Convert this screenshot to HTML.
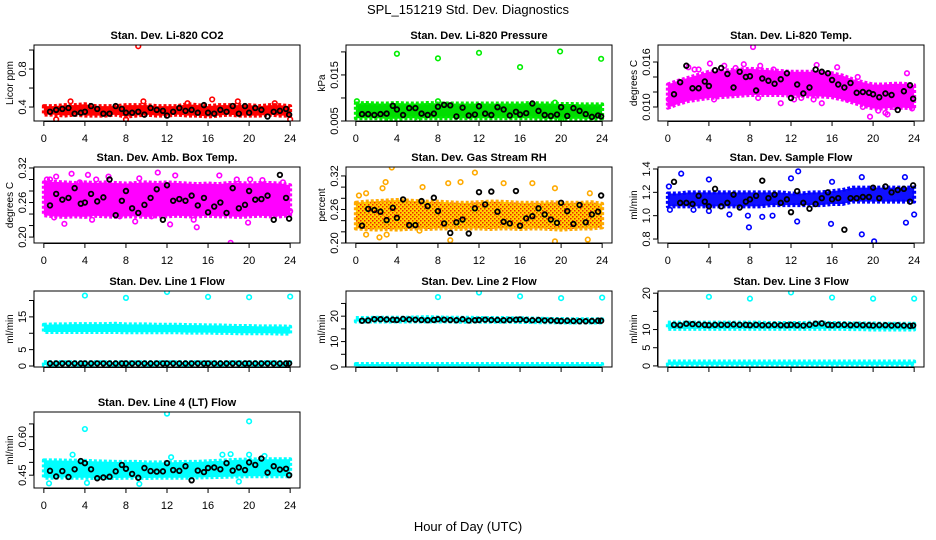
<!DOCTYPE html>
<html><head><meta charset="utf-8"><style>
body{margin:0;background:#fff}
svg{display:block}
text{font-family:"Liberation Sans",sans-serif;fill:#000}
</style></head><body>
<svg id="chart" width="936" height="540" viewBox="0 0 936 540" xmlns="http://www.w3.org/2000/svg">
<defs>
<pattern id="rhPat" width="4" height="4" patternUnits="userSpaceOnUse"><rect width="4" height="4" fill="#ffd400"/><rect width="1.5" height="1.5" fill="#f02000"/><rect x="2" y="2" width="1.5" height="1.5" fill="#f02000"/></pattern>
</defs>
<text x="468" y="14" font-size="13" text-anchor="middle">SPL_151219  Std. Dev. Diagnostics</text>
<text x="468" y="531" font-size="13" text-anchor="middle">Hour of Day (UTC)</text>
</svg>
<script>
const xTicks=[0,4,8,12,16,20,24];
const bandHours=[0,1,2,3,4,5,6,7,8,9,10,11,12,13,14,15,16,17,18,19,20,21,22,23,24];
const blackHours=[0.6,1.2,1.8,2.4,3.0,3.6,4.0,4.6,5.2,5.8,6.4,7.0,7.6,8.0,8.6,9.2,9.8,10.4,11.0,11.6,12.0,12.6,13.2,13.8,14.4,15.0,15.6,16.0,16.6,17.2,17.8,18.4,19.0,19.6,20.0,20.6,21.2,21.8,22.4,23.0,23.6,23.9];

const co2Lo=[0.32,0.32,0.31,0.32,0.31,0.31,0.31,0.32,0.30,0.31,0.32,0.31,0.31,0.32,0.31,0.31,0.30,0.31,0.32,0.31,0.31,0.31,0.32,0.31,0.31];
const co2Hi=[0.41,0.41,0.42,0.42,0.43,0.41,0.41,0.41,0.42,0.42,0.42,0.41,0.41,0.41,0.43,0.42,0.41,0.42,0.42,0.42,0.42,0.41,0.42,0.42,0.41];
const co2Black=[0.35,0.37,0.38,0.39,0.33,0.34,0.35,0.41,0.38,0.33,0.33,0.41,0.38,0.34,0.34,0.35,0.32,0.39,0.37,0.36,0.31,0.35,0.39,0.36,0.37,0.34,0.42,0.34,0.33,0.37,0.35,0.41,0.33,0.41,0.34,0.39,0.37,0.30,0.35,0.36,0.38,0.32];
const co2Out=[[9.2,1.04],[2.6,0.46],[9.7,0.46],[16.4,0.48],[18.9,0.46],[22.5,0.44],[1.2,0.27],[8.0,0.27],[24,0.27],[14,0.44]];

const presLo=[0.0056,0.0056,0.0056,0.0055,0.0055,0.0056,0.0056,0.0056,0.0056,0.0056,0.0056,0.0056,0.0056,0.0056,0.0056,0.0056,0.0056,0.0056,0.0055,0.0055,0.0055,0.0055,0.0055,0.0055,0.0056];
const presHi=[0.0088,0.0089,0.0088,0.0088,0.0089,0.0088,0.0088,0.0089,0.0088,0.0088,0.0088,0.0088,0.0088,0.0088,0.0088,0.0088,0.0088,0.0089,0.0088,0.0088,0.0087,0.0087,0.0086,0.0086,0.0086];
const presBlack=[0.0065,0.0065,0.0063,0.0065,0.0066,0.0083,0.0075,0.0063,0.0078,0.0078,0.0066,0.0063,0.0066,0.0081,0.0085,0.0084,0.0060,0.0079,0.0062,0.0064,0.0082,0.0066,0.0063,0.0080,0.0075,0.0062,0.0070,0.0064,0.0067,0.0088,0.0072,0.0063,0.0061,0.0064,0.0080,0.0061,0.0078,0.0072,0.0065,0.0059,0.0062,0.0060];
const presOut=[[4.0,0.0196],[8.0,0.0186],[12.0,0.0198],[16.0,0.0167],[19.9,0.0201],[23.9,0.0185],[0.1,0.0093],[8.0,0.0093],[19.4,0.0090],[3.3,0.0052],[6.0,0.0052],[20.0,0.0052]];

const tempLo=[0.0099,0.0104,0.0108,0.0110,0.0112,0.0113,0.0114,0.0115,0.0116,0.0116,0.0116,0.0116,0.0115,0.0115,0.0114,0.0114,0.0113,0.0110,0.0106,0.0102,0.0098,0.0098,0.0099,0.0099,0.0098];
const tempHi=[0.0130,0.0135,0.0139,0.0143,0.0147,0.0148,0.0149,0.0150,0.0151,0.0150,0.0149,0.0148,0.0147,0.0147,0.0147,0.0146,0.0145,0.0142,0.0137,0.0133,0.0130,0.0130,0.0131,0.0131,0.0129];
const tempBlack=[0.0117,0.0133,0.0155,0.0125,0.0125,0.0134,0.0128,0.0149,0.0152,0.0144,0.0126,0.0147,0.0140,0.0141,0.0122,0.0138,0.0135,0.0131,0.0137,0.0145,0.0112,0.0130,0.0118,0.0126,0.0150,0.0147,0.0145,0.0136,0.0130,0.0126,0.0132,0.0119,0.0120,0.0119,0.0117,0.0113,0.0118,0.0116,0.0096,0.0121,0.0129,0.0111];
const tempOut=[[0.4,0.0105],[4.1,0.0158],[7.4,0.0157],[8.3,0.0180],[14.5,0.0156],[16.5,0.0153],[19.7,0.0087],[21.4,0.0090],[21.2,0.0092],[11.0,0.0105],[2.0,0.0153],[10.3,0.0150],[3.0,0.0150],[23.3,0.0145],[2.6,0.0150],[15.0,0.0105],[0.1,0.0110],[1.5,0.0110],[5.5,0.0155],[6.6,0.0152],[9.0,0.0155],[12.3,0.0110],[13.0,0.0112],[14.2,0.0110],[17.5,0.0110],[18.5,0.0140],[19.0,0.0100],[20.5,0.0095],[22.0,0.0100],[23.8,0.0098],[4.5,0.0110],[8.8,0.0112]];

const ambLo=[0.238,0.236,0.235,0.236,0.235,0.237,0.236,0.235,0.236,0.236,0.235,0.236,0.236,0.237,0.236,0.236,0.237,0.236,0.236,0.235,0.236,0.237,0.236,0.236,0.238];
const ambHi=[0.295,0.296,0.295,0.294,0.295,0.294,0.295,0.294,0.293,0.294,0.295,0.294,0.295,0.294,0.293,0.292,0.293,0.292,0.294,0.294,0.293,0.294,0.294,0.293,0.290];
const ambBlack=[0.255,0.275,0.265,0.268,0.285,0.258,0.260,0.275,0.262,0.269,0.300,0.238,0.263,0.280,0.250,0.242,0.256,0.268,0.283,0.230,0.290,0.263,0.266,0.263,0.272,0.255,0.268,0.243,0.253,0.260,0.242,0.285,0.250,0.256,0.280,0.265,0.266,0.272,0.230,0.308,0.268,0.232];
const ambOut=[[0.6,0.300],[1.2,0.305],[2.7,0.310],[4.3,0.308],[5.1,0.300],[6.3,0.305],[8.5,0.290],[9.3,0.302],[11.1,0.312],[12.8,0.307],[17.1,0.307],[18.8,0.300],[20.1,0.300],[21.3,0.299],[23.3,0.295],[2.0,0.223],[4.7,0.230],[8.9,0.227],[12.3,0.222],[14.6,0.230],[14.9,0.217],[18.2,0.190],[19.9,0.225],[1.0,0.234],[7.4,0.236],[10.5,0.236],[22.6,0.240],[0.3,0.300],[24.0,0.245],[3.5,0.295]];

const rhLo=[0.226,0.225,0.224,0.225,0.224,0.225,0.226,0.225,0.226,0.226,0.225,0.226,0.226,0.225,0.226,0.226,0.225,0.226,0.226,0.225,0.224,0.225,0.226,0.226,0.228];
const rhHi=[0.272,0.274,0.275,0.276,0.277,0.276,0.275,0.274,0.274,0.273,0.272,0.272,0.273,0.274,0.274,0.273,0.272,0.272,0.272,0.273,0.272,0.272,0.272,0.273,0.270];
const rhBlack=[0.231,0.261,0.259,0.256,0.241,0.263,0.245,0.278,0.232,0.232,0.275,0.266,0.281,0.257,0.235,0.218,0.237,0.242,0.217,0.262,0.291,0.269,0.292,0.256,0.238,0.235,0.293,0.231,0.244,0.248,0.262,0.251,0.242,0.236,0.272,0.257,0.234,0.268,0.237,0.251,0.256,0.285];
const rhOut=[[3.5,0.335],[11.6,0.326],[10.2,0.309],[9.0,0.307],[14.4,0.307],[17.2,0.307],[2.9,0.309],[6.5,0.300],[2.6,0.298],[0.3,0.285],[1.0,0.289],[19.4,0.298],[22.8,0.289],[9.2,0.205],[19.4,0.203],[22.6,0.206],[2.3,0.210],[1.0,0.215],[3.0,0.215],[6.2,0.222]];

const flowLo=[1.08,1.08,1.08,1.08,1.08,1.08,1.08,1.08,1.08,1.08,1.09,1.09,1.09,1.09,1.09,1.09,1.10,1.10,1.12,1.12,1.12,1.12,1.12,1.12,1.12];
const flowHi=[1.19,1.19,1.20,1.20,1.20,1.20,1.20,1.20,1.20,1.20,1.20,1.20,1.19,1.19,1.20,1.20,1.21,1.22,1.24,1.24,1.24,1.24,1.24,1.24,1.24];
const flowBlack=[1.29,1.11,1.11,1.10,1.17,1.12,1.08,1.23,1.08,1.11,1.18,1.07,1.12,1.14,1.17,1.30,1.15,1.18,1.11,1.14,1.03,1.21,1.11,1.06,1.10,1.15,1.20,1.14,1.15,0.88,1.15,1.15,1.16,1.16,1.24,1.15,1.25,1.20,1.22,1.23,1.12,1.26];
const flowOut=[[0.1,1.25],[1.3,1.36],[4.0,1.31],[7.9,0.90],[9.2,0.99],[10.2,1.00],[12.0,1.32],[12.7,1.38],[12.6,0.95],[15.9,0.93],[18.9,0.84],[20.1,0.78],[23.2,0.94],[24.0,1.01],[18.9,1.33],[23.1,1.33],[6.0,1.01],[7.8,1.00],[0.2,1.05],[2.5,1.05],[16.0,1.29],[4.0,1.04]];

const zeroLo=[0.3,0.3,0.3,0.3,0.3,0.3,0.3,0.3,0.3,0.3,0.3,0.3,0.3,0.3,0.3,0.3,0.3,0.3,0.3,0.3,0.3,0.3,0.3,0.3,0.3];
const zeroHi=[1.2,1.2,1.2,1.2,1.2,1.2,1.2,1.2,1.2,1.2,1.2,1.2,1.2,1.2,1.2,1.2,1.2,1.2,1.2,1.2,1.2,1.2,1.2,1.2,1.2];

const l1Lo=[10.4,10.4,10.4,10.4,10.4,10.4,10.4,10.4,10.3,10.3,10.3,10.3,10.3,10.3,10.2,10.2,10.2,10.1,10.1,10.0,10.0,10.0,10.0,9.9,9.9];
const l1Hi=[12.6,12.7,12.7,12.8,12.8,12.8,12.8,12.9,12.7,12.7,12.7,12.6,12.6,12.6,12.5,12.5,12.4,12.4,12.3,12.2,12.2,12.1,12.1,12.1,12.0];
const l1Black=[0.8,0.8,0.8,0.8,0.8,0.8,0.8,0.8,0.8,0.8,0.8,0.8,0.8,0.8,0.8,0.8,0.8,0.8,0.8,0.8,0.8,0.8,0.8,0.8,0.8,0.8,0.8,0.8,0.8,0.8,0.8,0.8,0.8,0.8,0.8,0.8,0.8,0.8,0.8,0.8,0.8,0.8];
const l1Out=[[4,21.5],[8,20.8],[12,22.6],[16,21.1],[20,21.0],[24,21.2]];

const l2Lo=[17.9,17.9,17.9,17.9,17.9,17.9,17.9,17.9,17.9,17.9,17.8,17.8,17.8,17.8,17.8,17.8,17.7,17.7,17.6,17.6,17.5,17.5,17.5,17.5,17.5];
const l2Hi=[19.3,19.3,19.4,19.4,19.4,19.4,19.5,19.6,19.5,19.4,19.4,19.4,19.3,19.3,19.3,19.2,19.2,19.1,19.0,18.9,18.9,18.8,18.8,18.8,18.8];
const l2Black=[18.2,18.3,18.8,18.8,18.7,18.6,18.5,18.9,18.7,18.6,18.5,18.4,18.5,18.8,18.6,18.5,18.4,18.8,18.3,18.4,18.5,18.6,18.5,18.5,18.4,18.5,18.6,18.7,18.5,18.4,18.5,18.3,18.3,18.2,18.1,18.2,18.1,18.0,18.0,18.1,18.2,18.2];
const l2Out=[[8,27.5],[12,29.3],[16,27.8],[20,27.1],[24,27.3]];

const l3Lo=[10.2,10.2,10.2,10.2,10.2,10.2,10.2,10.2,10.2,10.2,10.2,10.2,10.2,10.2,10.2,10.2,10.2,10.2,10.1,10.1,10.0,10.0,10.0,10.0,10.0];
const l3Hi=[11.9,11.9,11.9,11.9,11.9,11.9,11.9,11.9,11.9,11.9,11.8,11.8,11.8,11.8,11.9,11.9,11.8,11.8,11.7,11.7,11.7,11.6,11.6,11.6,11.6];
const l3Black=[11.3,11.2,11.6,11.5,11.4,11.3,11.2,11.3,11.3,11.3,11.4,11.3,11.3,11.2,11.3,11.2,11.2,11.3,11.2,11.2,11.3,11.2,11.1,11.3,11.6,11.7,11.3,11.2,11.3,11.3,11.2,11.3,11.2,11.2,11.1,11.2,11.2,11.1,11.2,11.1,11.0,11.1];
const l3Out=[[4,19.0],[8,18.5],[12,20.2],[16,18.8],[20,18.5],[24,18.5]];

const l4Lo=[0.440,0.440,0.441,0.440,0.440,0.439,0.439,0.439,0.440,0.440,0.439,0.440,0.440,0.440,0.440,0.441,0.442,0.443,0.444,0.445,0.446,0.446,0.446,0.446,0.446];
const l4Hi=[0.508,0.508,0.507,0.507,0.506,0.504,0.503,0.502,0.502,0.502,0.500,0.500,0.500,0.501,0.502,0.502,0.504,0.506,0.508,0.510,0.511,0.512,0.512,0.512,0.512];
const l4Black=[0.467,0.445,0.466,0.443,0.473,0.505,0.497,0.473,0.438,0.441,0.444,0.465,0.490,0.475,0.455,0.440,0.478,0.466,0.464,0.465,0.497,0.470,0.467,0.485,0.430,0.468,0.462,0.478,0.480,0.473,0.497,0.468,0.480,0.470,0.500,0.490,0.515,0.460,0.485,0.472,0.475,0.450];
const l4Out=[[4,0.63],[12,0.69],[20,0.66],[2.8,0.53],[12.4,0.52],[17.4,0.53],[18.2,0.532],[20.0,0.53],[0.5,0.418],[4.2,0.42],[9.3,0.416],[19.0,0.425],[21.5,0.525]];

const co2Ticks=[0.4,0.6,0.8,1.0], co2Labels=["0.4","","0.8",""];
const presTicks=[0.005,0.010,0.015,0.020], presLabels=["0.005","","0.015",""];
const tempTicks=[0.010,0.012,0.014,0.016], tempLabels=["0.010","","","0.016"];
const ambTicks=[0.20,0.22,0.24,0.26,0.28,0.30,0.32], ambLabels=["0.20","","","0.26","","","0.32"];
const rhTicks=[0.20,0.22,0.24,0.26,0.28,0.30,0.32], rhLabels=["0.20","","","0.26","","","0.32"];
const flowTicks=[0.8,1.0,1.2,1.4], flowLabels=["0.8","1.0","1.2","1.4"];
const l1Ticks=[0,5,10,15,20], l1Labels=["0","5","","15",""];
const l2Ticks=[0,5,10,15,20,25], l2Labels=["0","","10","","20",""];
const l3Ticks=[0,5,10,15,20], l3Labels=["0","5","10","","20"];
const l4Ticks=[0.45,0.50,0.55,0.60,0.65], l4Labels=["0.45","","","0.60",""];

const NS="http://www.w3.org/2000/svg";
const svg=document.getElementById('chart');
function mk(tag,attrs,parent){const e=document.createElementNS(NS,tag);for(const k in attrs)e.setAttribute(k,attrs[k]);(parent||svg).appendChild(e);return e;}

const panels=[
 {key:'co2',title:'Stan. Dev. Li-820 CO2',ylab:'Licor ppm',col:0,row:0,ymin:0.253,ymax:1.053,color:'#ff0000',fill:'#ff0000',bands:[[co2Lo,co2Hi]],black:co2Black,out:co2Out,ticks:co2Ticks,labels:co2Labels,xl:true},
 {key:'pressure',title:'Stan. Dev. Li-820 Pressure',ylab:'kPa',col:1,row:0,ymin:0.005,ymax:0.0215,color:'#00ee00',fill:'#00dd00',bands:[[presLo,presHi]],black:presBlack,out:presOut,ticks:presTicks,labels:presLabels,xl:true},
 {key:'li820-temp',title:'Stan. Dev. Li-820 Temp.',ylab:'degrees C',col:2,row:0,ymin:0.00813,ymax:0.01827,color:'#ff00ff',fill:'#ff00ff',bands:[[tempLo,tempHi]],black:tempBlack,out:tempOut,ticks:tempTicks,labels:tempLabels,xl:true},
 {key:'amb-box-temp',title:'Stan. Dev. Amb. Box Temp.',ylab:'degrees C',col:0,row:1,ymin:0.1897,ymax:0.3217,color:'#ff00ff',fill:'#ff00ff',bands:[[ambLo,ambHi]],black:ambBlack,out:ambOut,ticks:ambTicks,labels:ambLabels,xl:true},
 {key:'gas-rh',title:'Stan. Dev. Gas Stream RH',ylab:'percent',col:1,row:1,ymin:0.20,ymax:0.336,color:'#ffaa00',fill:'url(#rhPat)',bands:[[rhLo,rhHi]],black:rhBlack,out:rhOut,ticks:rhTicks,labels:rhLabels,xl:true},
 {key:'sample-flow',title:'Stan. Dev. Sample Flow',ylab:'ml/min',col:2,row:1,ymin:0.766,ymax:1.417,color:'#0000ff',fill:'#1010ff',bands:[[flowLo,flowHi]],black:flowBlack,out:flowOut,ticks:flowTicks,labels:flowLabels,xl:true},
 {key:'line1-flow',title:'Stan. Dev. Line 1 Flow',ylab:'ml/min',col:0,row:2,ymin:-0.3,ymax:22.9,color:'#00ffff',fill:'#00ffff',bands:[[l1Lo,l1Hi],[zeroLo,zeroHi]],black:l1Black,out:l1Out,ticks:l1Ticks,labels:l1Labels,xl:false},
 {key:'line2-flow',title:'Stan. Dev. Line 2 Flow',ylab:'ml/min',col:1,row:2,ymin:0,ymax:29.9,color:'#00ffff',fill:'#00ffff',bands:[[l2Lo,l2Hi],[zeroLo,zeroHi]],black:l2Black,out:l2Out,ticks:l2Ticks,labels:l2Labels,xl:false},
 {key:'line3-flow',title:'Stan. Dev. Line 3 Flow',ylab:'ml/min',col:2,row:2,ymin:-0.3,ymax:20.6,color:'#00ffff',fill:'#00ffff',bands:[[l3Lo,l3Hi],[zeroLo,zeroHi]],black:l3Black,out:l3Out,ticks:l3Ticks,labels:l3Labels,xl:false},
 {key:'line4-flow',title:'Stan. Dev. Line 4 (LT) Flow',ylab:'ml/min',col:0,row:3,ymin:0.40,ymax:0.6965,color:'#00ffff',fill:'#00ffff',bands:[[l4Lo,l4Hi]],black:l4Black,out:l4Out,ticks:l4Ticks,labels:l4Labels,xl:true}
];
const colLeft=[34,346,658], rowTop=[45,167,291,412], PW=266, PH=76;

panels.forEach(p=>{
  const L=colLeft[p.col], T=rowTop[p.row], B=T+PH, R=L+PW;
  const g=mk('g',{});
  
  
  const xs=h=>L+(h+0.96)/25.92*PW;
  const ys=v=>B-(v-p.ymin)/(p.ymax-p.ymin)*PH;
  const clipId='clip-'+p.key;
  const cp=mk('clipPath',{id:clipId},g); mk('rect',{x:L,y:T,width:PW,height:PH},cp);
  const dg=mk('g',{'clip-path':'url(#'+clipId+')'},g);
  p.bands.forEach(b=>{
    const pts=bandHours.map((h,i)=>xs(h)+','+ys(b[1][i])).concat(bandHours.slice().reverse().map((h,j)=>{const i=bandHours.length-1-j;return xs(h)+','+ys(b[0][i]);}));
    const poly=mk('polygon',{points:pts.join(' '),fill:p.fill,stroke:p.color,'stroke-width':4,'stroke-linejoin':'round','stroke-dasharray':'3 2'},dg);
    
    
  });
  p.out.forEach(o=>{
    const c=mk('circle',{cx:xs(o[0]),cy:ys(o[1]),r:2.3,fill:'none',stroke:p.color,'stroke-width':1.6},dg);
    
    
  });
  blackHours.forEach((h,i)=>{
    const c=mk('circle',{cx:xs(h),cy:ys(p.black[i]),r:2.3,fill:'none',stroke:'#000','stroke-width':1.8},dg);
    
    
  });
  const fr=mk('rect',{x:L,y:T,width:PW,height:PH,fill:'none',stroke:'#000','stroke-width':1},g);
  
  
  mk('line',{x1:xs(0),x2:xs(24),y1:B+0.5,y2:B+0.5,stroke:'#000'},g);
  xTicks.forEach(t=>{
    mk('line',{x1:xs(t),x2:xs(t),y1:B,y2:B+5,stroke:'#000'},g);
    if(p.xl){const tx=mk('text',{x:xs(t),y:B+21,'font-size':11,'text-anchor':'middle'},g);tx.textContent=t;
      
      }
  });
  p.ticks.forEach((t,i)=>{
    const y=ys(t);
    mk('line',{x1:L-5,x2:L,y1:y,y2:y,stroke:'#000'},g);
    if(p.labels[i]){const tx=mk('text',{x:0,y:0,'font-size':11,'text-anchor':'middle',transform:'translate('+(L-8)+','+y+') rotate(-90)'},g);tx.textContent=p.labels[i];
      
      }
  });
  mk('line',{x1:L-0.5,x2:L-0.5,y1:ys(p.ticks[0]),y2:ys(p.ticks[p.ticks.length-1]),stroke:'#000'},g);
  const yl=mk('text',{x:0,y:0,'font-size':10,'text-anchor':'middle',transform:'translate('+(L-21)+','+(T+PH/2)+') rotate(-90)'},g);
  yl.textContent=p.ylab;
  
  
  const ti=mk('text',{x:L+PW/2,y:T-6,'font-size':11,'font-weight':'bold','text-anchor':'middle'},g);
  ti.textContent=p.title;
  
  
});
</script>
</body></html>
